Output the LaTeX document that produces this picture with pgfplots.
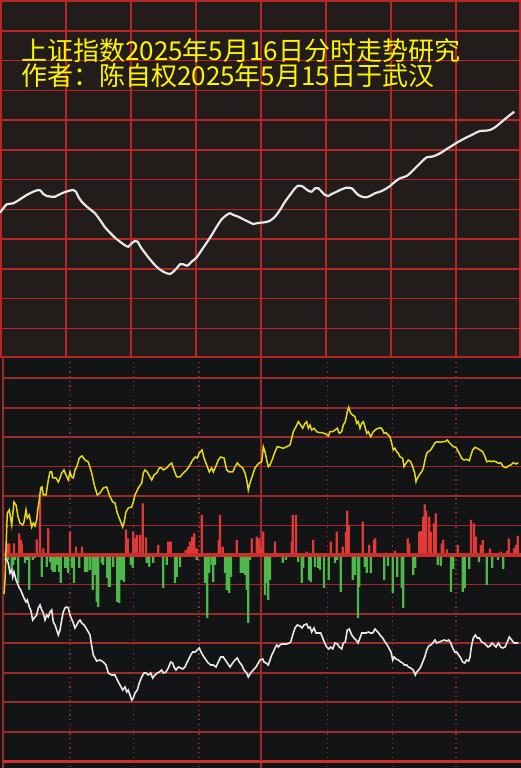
\documentclass[border=0pt]{standalone}
\usepackage{pgfplots}
\pgfplotsset{compat=1.18}
\usepackage{fontspec}
\newfontfamily\cjk{Noto Sans CJK SC}
\definecolor{topbg}{RGB}{34,28,26}
\definecolor{botbg}{RGB}{19,20,22}
\definecolor{topgrid}{RGB}{185,38,38}
\definecolor{botgrid}{RGB}{158,42,42}
\definecolor{zerored}{RGB}{200,48,44}
\definecolor{dotred}{RGB}{140,40,40}
\definecolor{titley}{RGB}{255,245,0}
\definecolor{liney}{RGB}{228,218,24}
\definecolor{linew}{RGB}{232,232,232}
\definecolor{barred}{RGB}{224,58,56}
\definecolor{bargreen}{RGB}{78,184,74}
\begin{document}
\begin{tikzpicture}
\useasboundingbox (0pt,0pt) rectangle (521pt,768pt);
\fill[topbg] (0pt,410pt) rectangle (521pt,768pt);
\fill[botbg] (0pt,0pt) rectangle (521pt,410pt);
% ---------------- top panel ----------------
\begin{axis}[at={(0pt,410pt)}, anchor=south west, scale only axis,
  width=521pt, height=358pt, xmin=0, xmax=521, ymin=0, ymax=358,
  y dir=reverse, hide axis, clip=true]
\pgfplotsinvokeforeach{1,66,131,196,261,326,391,456,520}{
  \draw[topgrid, line width=1.5pt] (axis cs:#1,0) -- (axis cs:#1,358);}
\pgfplotsinvokeforeach{1,30.8,60.5,90.3,120,149.9,179.6,209.4,239.2,268.9,298.7,328.5}{
  \draw[topgrid, line width=1.5pt] (axis cs:0,#1) -- (axis cs:521,#1);}
\draw[topgrid, line width=2.5pt] (axis cs:0,357.4) -- (axis cs:521,357.4);
\addplot[linew, line width=2.2pt, smooth, tension=0.5] table[row sep=\\]{
x y\\
0 212.7\\ 3.3 208.3\\ 6.7 204.3\\ 13.3 203.3\\ 20 199.3\\ 26.7 195\\ 33.3 191.7\\
38.3 190\\ 40.7 190.7\\ 43.3 194\\ 46.7 196\\ 51.7 196.7\\ 55 196.7\\ 58.3 195\\
63.3 192.7\\ 68.3 191\\ 73.3 190\\ 76 191.7\\ 78.3 196.7\\ 81.7 201.7\\ 85 205\\
90 209.3\\ 95 213.3\\ 100 220\\ 105 227.3\\ 110 232.7\\ 115 237.7\\ 120 241.7\\
125 245.3\\ 128.3 246.7\\ 131.7 243.3\\ 135 241\\ 137.7 241.7\\ 140 246\\
143.3 250.7\\ 148.3 257.3\\ 153.3 263.3\\ 158.3 268.3\\ 163.3 271.7\\ 166.7 273.3\\
170 274\\ 173.3 271.7\\ 176.7 268.3\\ 180 264.3\\ 183.3 264.3\\ 187.3 265.7\\
191.7 261.7\\ 196.7 257.3\\ 201.7 250\\ 206.7 242.7\\ 211.7 235\\ 216.7 226.7\\
221.7 219.3\\ 226.7 215\\ 230 213.3\\ 233.3 215\\ 238.3 216.7\\ 243.3 219.3\\
248.3 221.7\\ 253.3 224\\ 256.7 223.3\\ 260 222.7\\ 265 222.3\\ 270 220.7\\
275 216.7\\ 280 210\\ 285 201.7\\ 290 195\\ 295 188.3\\ 298.3 185.7\\ 301.7 186\\
305 188.3\\ 308.3 190.7\\ 311.7 191.7\\ 315 188.3\\ 318.3 188.3\\ 321.7 191.7\\
325 195\\ 328.3 196\\ 331.7 194\\ 336.7 191.7\\ 341.7 189.3\\ 346.7 187.7\\
351.7 188.3\\ 355 191.7\\ 358.3 195\\ 361.7 196.7\\ 366 197.3\\ 370 196\\
375 193.3\\ 380 191.7\\ 385 189.3\\ 390 186\\ 395 181.7\\ 400 178.3\\ 406.7 176\\
411.7 171.7\\ 416.7 166.7\\ 421.7 161.7\\ 426.7 157.3\\ 431.7 156.7\\ 436.7 155\\
441.7 152.3\\ 446.7 149\\ 451.7 146\\ 456.7 142.7\\ 461.7 140\\ 466.7 137.3\\
471.7 135\\ 476.7 132.3\\ 480 131\\ 485 130.7\\ 490 130\\ 495 127.3\\ 500 123.3\\
505 119\\ 510 115\\ 514.3 111.7\\
};
\end{axis}
% ---------------- bottom panel ----------------
\begin{axis}[at={(0pt,0pt)}, anchor=south west, scale only axis,
  width=521pt, height=410pt, xmin=0, xmax=521, ymin=-213, ymax=197,
  hide axis, clip=true]
\draw[botgrid, line width=1.5pt] (axis cs:3,197) -- (axis cs:3,-213);
\draw[botgrid, line width=1.5pt] (axis cs:261,197) -- (axis cs:261,-213);
\pgfplotsinvokeforeach{70,133.3,199,327.3,392.3,456}{
  \draw[dotred, line width=1.3pt, dash pattern=on 1.3pt off 3.4pt] (axis cs:#1,193) -- (axis cs:#1,-213);}
\pgfplotsinvokeforeach{176.7,147.25,117.8,88.35,58.9,29.45,-29.45,-58.9,-88.35,-117.8,-147.25,-176.7}{
  \draw[botgrid, line width=1.7pt] (axis cs:3,#1) -- (axis cs:521,#1);}
\draw[zerored, line width=3pt] (axis cs:3,-206.4) -- (axis cs:521,-206.4);
% red bars
\addplot[ybar, bar width=2.3pt, bar shift=0pt, fill=barred, draw=none] table[row sep=\\]{
x h\\
7.3 11.7\\ 9.3 11.7\\ 14 11.7\\ 19.3 21.7\\ 20.7 15\\ 21.7 11.7\\ 36.7 15.7\\ 40 58.3\\
43.3 6.7\\ 48.3 26.7\\ 70 23.3\\ 76 8.3\\ 82 8.3\\ 126 25.7\\ 127.7 16.7\\ 133.3 23.3\\
135 16.7\\ 136.7 20\\ 140 20\\ 142.7 51.7\\ 146 17.7\\ 158.3 10\\ 168.3 13.3\\ 170.7 13.3\\
185.7 5\\ 188.3 8\\ 190 13.3\\ 192.3 18.3\\ 194.3 21.7\\ 196.7 6.7\\ 201.7 40\\ 218.7 15\\
220 40\\ 222.7 8.3\\ 236.7 15\\ 251.7 16.7\\ 256.7 18.3\\ 259.3 16.7\\ 261.7 8.3\\
263.3 23.3\\ 275 13.3\\ 291.7 13.3\\ 292.7 40\\ 296 40\\ 306.7 3.3\\ 313.3 15\\
330.7 13.3\\ 336.7 23.3\\ 342.7 8.3\\ 346 23.3\\ 347.3 44.3\\ 348.7 30\\ 362.7 33.3\\
369.3 10\\ 374 15\\ 375.3 16.7\\ 386 2.3\\ 395 4\\ 407.7 16.7\\ 409.3 11.7\\ 419.3 23.3\\
420.7 24\\ 423.3 38.3\\ 424.7 50.7\\ 426.3 44.3\\ 429.3 38.3\\ 430.7 23.3\\ 434 31.7\\
435.7 41.7\\ 441.7 11.7\\ 443.3 15\\ 446.7 5.7\\ 457.7 10\\ 471 35\\ 474 31.7\\ 476 18.3\\
480.7 10\\ 482.7 15\\ 490 6.7\\ 500.7 3.3\\ 507.3 4\\ 508.7 16.7\\ 514 6.7\\ 516 10\\ 517.7 19\\
};
% green bars
\addplot[ybar, bar width=2.3pt, bar shift=0pt, fill=bargreen, draw=none] table[row sep=\\]{
x h\\
8.3 -5\\ 11.7 -15\\ 13.3 -10\\ 15 -5\\ 18.3 -28\\ 25 -8\\ 26.7 -5\\ 29.3 -35\\ 32.7 -5\\
35 -3\\ 41.7 -22\\ 46.7 -12\\ 50 -7\\ 51.7 -15\\ 53.3 -17\\ 55 -17\\ 57.3 -10\\ 59 -17\\
60.7 -28\\ 65 -13\\ 66.7 -13\\ 68.3 -18\\ 71.7 -13\\ 74 -28\\ 79.3 -13\\ 85 -17\\ 87.3 -17\\
90 -15\\ 92.7 -35\\ 95 -20\\ 96.7 -47\\ 98.3 -52\\ 101.7 -8\\ 103.3 -10\\ 107.3 -23\\
108.7 -32\\ 110 -32\\ 113.3 -12\\ 117.3 -47\\ 119.3 -48\\ 121.7 -25\\ 124 -27\\ 130.7 -10\\
132.7 -13\\ 146.7 -8\\ 149.3 -12\\ 153.3 -8\\ 163.3 -33\\ 166.7 -10\\ 175 -28\\ 176.7 -22\\
180 -12\\ 196.7 -5\\ 205 -28\\ 207.3 -63\\ 209.3 -18\\ 212 -10\\ 213.3 -27\\ 215 -10\\
225 -18\\ 226.7 -35\\ 229.3 -38\\ 231 -22\\ 240.7 -18\\ 242.7 -18\\ 245 -20\\ 246.7 -35\\
248.3 -68\\ 250 -5\\ 265 -40\\ 266.7 -28\\ 268.3 -45\\ 270 -25\\ 282.7 -8\\ 286 -5\\
298.3 -7\\ 301.7 -28\\ 303.3 -13\\ 309 -25\\ 310.7 -27\\ 315 -12\\ 318.3 -13\\ 320 -15\\
324 -33\\ 328.7 -25\\ 335 -8\\ 337.3 -5\\ 340.7 -37\\ 352.7 -25\\ 355 -20\\ 358 -63\\
359.3 -32\\ 364.7 -12\\ 366.7 -18\\ 370.7 -18\\ 384.3 -25\\ 388 -11\\ 392.7 -38\\
397.3 -22\\ 401.7 -33\\ 403.3 -53\\ 413.3 -20\\ 415.3 -13\\ 437.7 -10\\ 440.7 -11\\
451 -37\\ 453.3 -14\\ 462.7 -37\\ 464.7 -33\\ 469.3 -14\\ 479 -7\\ 486.7 -30\\ 492.3 -13\\
498 -5\\ 503.3 -14\\
};
\draw[zerored, line width=3.2pt] (axis cs:3,0) -- (axis cs:521,0);
% yellow line
\addplot[liney, line width=1.5pt] table[row sep=\\, y expr=555-\thisrowno{1}]{
x y\\
4 594\\ 5 580\\ 5.7 560\\ 6.3 540\\ 7.3 513\\ 9.3 510\\ 11.7 525\\ 14 502\\ 16 505\\
18.3 518\\ 20 523\\ 22.7 525\\ 24 522\\ 26 510\\ 27.3 518\\ 29.3 515\\ 31.7 527\\ 33.3 523\\
35 526\\ 36.7 520\\ 37.7 510\\ 39.3 500\\ 40.7 488\\ 42 487\\ 43.3 495\\ 46 495\\ 48.3 480\\
50 472\\ 51.7 472\\ 52.7 478\\ 56 478\\ 58.3 482\\ 60 478\\ 61.7 473\\ 64 470\\ 66 475\\
68.3 480\\ 70 472\\ 71.7 477\\ 73.3 478\\ 75 470\\ 76.7 467\\ 79.3 458\\ 82 456\\ 85 460\\
88.3 462\\ 91.7 473\\ 94.3 485\\ 97.3 495\\ 100 493\\ 103.3 488\\ 106.7 487\\ 109.3 495\\
112.7 502\\ 115 503\\ 117.3 513\\ 120 520\\ 122.7 527\\ 124 523\\ 126 512\\ 128.3 508\\
131.7 507\\ 133.3 502\\ 135 495\\ 138.3 488\\ 141.7 483\\ 143.3 473\\ 145 470\\ 147.3 472\\
150 477\\ 151.7 480\\ 154 475\\ 156.7 473\\ 159.3 468\\ 161.7 468\\ 163.3 470\\ 166.7 468\\
169.3 465\\ 171.7 463\\ 173.3 468\\ 176.7 477\\ 180 477\\ 183.3 473\\ 186.7 470\\ 190 465\\
192.7 460\\ 195.3 457\\ 197.3 458\\ 199.3 453\\ 202 450\\ 204 458\\ 206.7 465\\ 209.3 472\\
211.7 468\\ 213.3 472\\ 216 466\\ 218.3 460\\ 220.7 457\\ 224 458\\ 226.7 470\\ 229.3 472\\
232.7 472\\ 235 467\\ 237.3 463\\ 240 466\\ 242.7 468\\ 245 473\\ 246.7 480\\ 248.3 490\\
250 483\\ 252.7 475\\ 255 468\\ 257.3 465\\ 259.3 463\\ 261.7 461.7\\ 263.3 446.7\\
265 451.7\\ 266.7 460\\ 268.3 466.7\\ 270 465\\ 272.7 458.3\\ 275 451.7\\ 277.3 446.7\\
280 447.3\\ 283.3 448.3\\ 286.7 446.7\\ 290 445\\ 291.7 438.3\\ 293.3 431.7\\ 296 426.7\\
298.3 421.7\\ 300.7 425\\ 302.7 428.3\\ 305 423.3\\ 306.7 421.7\\ 308.3 428.3\\ 310 425\\
311.7 430\\ 314 428.3\\ 316.7 431.7\\ 319.3 432.7\\ 321.7 432.7\\ 324 433.3\\ 326 434\\
328.3 436\\ 330 431.7\\ 332.7 431.7\\ 335 430\\ 337.3 428.3\\ 339.3 433.3\\ 341.7 431.7\\
343.3 425\\ 345.3 421.7\\ 347.3 411.7\\ 348.7 407.3\\ 350.7 413.3\\ 352.7 415\\ 355 416.7\\
356.7 423.3\\ 358.3 421.7\\ 360 428.3\\ 361.7 423.3\\ 363.3 421.7\\ 365 426.7\\ 366.7 433.3\\
368.3 431.7\\ 370.7 436.7\\ 373.3 431.7\\ 376 429.3\\ 378.3 428.3\\ 380.7 427.7\\ 382.7 430\\
384 433.3\\ 386 432.7\\ 388.3 435\\ 390 436.7\\ 391.7 443.3\\ 393.3 450\\ 395 448.3\\
396.7 451.7\\ 398.3 453.3\\ 400 456.7\\ 402.7 458.3\\ 404 466.7\\ 406 463.3\\ 408.3 460\\
410.7 461.7\\ 412.7 466.7\\ 414.7 473.3\\ 416 481.7\\ 417.3 478.3\\ 419.3 475\\ 421.7 471.7\\
423.3 468.3\\ 425 460\\ 426.7 453.3\\ 428.3 451.7\\ 430.7 450\\ 432.7 446.7\\ 435 442.7\\
437.3 441.7\\ 440 442.3\\ 442.7 441.7\\ 445 441.7\\ 447.3 440\\ 449.3 442.7\\ 451.7 445\\
453.3 446.7\\ 456 447.3\\ 457.3 450\\ 459.3 453.3\\ 461.7 458.3\\ 464 460\\ 466.7 459.3\\
469.3 460.7\\ 470.7 456\\ 472.7 450\\ 475 447.3\\ 477.3 448.3\\ 480 450\\ 482.7 451.7\\
485 456.7\\ 486.7 461.7\\ 489.3 461\\ 491.7 461.7\\ 493.3 461\\ 496 461.7\\ 498.3 463.3\\
500.7 462.7\\ 503.3 466.7\\ 506 467.7\\ 508.3 466\\ 510.7 465\\ 513.3 462.7\\ 516 464\\
518.3 462.7\\
};
% white line
\addplot[linew, line width=1.6pt] table[row sep=\\, y expr=555-\thisrowno{1}]{
x y\\
5 558\\ 6.7 560\\ 8.3 563\\ 10 573\\ 11.7 570\\ 12.7 577\\ 14 572\\ 16 580\\ 17.3 583\\
19.3 588\\ 20.7 590\\ 22.7 595\\ 24 598\\ 26 602\\ 27.3 600\\ 29.3 607\\ 30.7 610\\
32.7 620\\ 35 617\\ 36.7 615\\ 38.3 608\\ 40 605\\ 41.7 610\\ 43.3 613\\ 45 620\\
46.7 615\\ 48.3 617\\ 50 612\\ 51.7 610\\ 53.3 622\\ 55 625\\ 56.7 630\\ 58.3 635\\
60 630\\ 61.7 620\\ 63.3 612\\ 65 608\\ 66.7 607\\ 68.3 608\\ 70 615\\ 73.3 623\\ 75 628\\
76.7 625\\ 78.3 622\\ 80 620\\ 81.7 623\\ 84 625\\ 86 628\\ 88.3 632\\ 90 635\\
91.7 646\\ 93.3 655\\ 96.7 661\\ 100 660\\ 103.3 662\\ 106 665\\ 108.3 673\\ 111.7 675\\
115 675\\ 117.3 680\\ 120 685\\ 122.7 690\\ 125 687\\ 126.7 692\\ 128.3 690\\ 130 695\\
131.7 700\\ 133.3 698\\ 135 693\\ 137.3 690\\ 139.3 683\\ 141.7 677\\ 144 673\\ 146 673\\
148.3 675\\ 150.7 673\\ 152.7 678\\ 155 675\\ 157.3 673\\ 159.3 672\\ 161.7 670\\
163.3 673\\ 166 672\\ 168.3 668\\ 170.7 662\\ 172.7 663\\ 174 667\\ 176 670\\ 178.3 667\\
180.7 668\\ 182.7 669\\ 185 667\\ 186.7 663\\ 188.3 660\\ 190.7 655\\ 192.7 652\\ 195 652\\
197.3 650\\ 199.3 648\\ 201 652\\ 202.7 655\\ 204 657\\ 206 660\\ 208.3 663\\ 210.7 665\\
213.3 665\\ 216 667\\ 218.3 662\\ 220.7 657\\ 223.3 657\\ 225.3 660\\ 227.3 663\\ 230 667\\
232.7 663\\ 235 660\\ 237.3 658\\ 239.3 662\\ 241.7 665\\ 244 670\\ 246.7 673\\ 248.3 677\\
250.7 673\\ 253.3 670\\ 256 667\\ 258.3 663\\ 260 660\\ 262.7 659\\ 264 662\\ 266 663\\
268.3 665\\ 270 660\\ 271.7 655\\ 273.3 652\\ 275 648\\ 276.7 645\\ 278.3 647\\ 280 645\\
281.7 644\\ 284 644\\ 286.7 644\\ 289.3 643\\ 290.7 642\\ 292.7 635\\ 295 628\\ 297.3 625\\
300 626\\ 302 628\\ 304 625\\ 306.7 624\\ 308.3 628\\ 310 627\\ 311.7 632\\ 314 628\\
316 633\\ 318.3 633\\ 320.7 633\\ 322.7 638\\ 324.7 643\\ 326.7 647\\ 328.7 649\\
330.7 647\\ 332.7 649\\ 335 643\\ 337.3 644\\ 339.3 647\\ 341.7 649\\ 343.3 643\\
345.3 642\\ 347.3 630\\ 349.3 629\\ 351.7 635\\ 354 638\\ 356 640\\ 358 643\\ 360 638\\
361.7 633\\ 364 633\\ 366 633\\ 368.3 632\\ 370.7 633\\ 372.7 633\\ 375 629\\ 376.7 631\\
378.7 633\\ 380.7 636\\ 382.7 638\\ 385 642\\ 387.3 645\\ 389.3 649\\ 391 652\\ 392.7 660\\
394 657\\ 396 659\\ 398.3 660\\ 400.7 662\\ 402.7 663\\ 404.3 665\\ 406.7 665\\ 408.3 667\\
410.7 668\\ 413.3 670\\ 415.3 675\\ 416.7 672\\ 418.7 670\\ 420.7 667\\ 422.7 662\\
424.7 657\\ 426.7 650\\ 428.7 646\\ 430.7 645\\ 432.7 643\\ 435 640\\ 436.7 643\\
439.3 642\\ 441.7 641\\ 444 640\\ 446.7 641\\ 448.7 640\\ 450.7 643\\ 452.7 648\\
454.7 652\\ 456.7 652\\ 458.7 655\\ 460.7 658\\ 462.7 662\\ 464.7 663\\ 466.7 660\\
468.7 661\\ 470 657\\ 471.3 647\\ 473.3 638\\ 475.3 635\\ 477.3 638\\ 479.3 638\\
481.7 642\\ 484 643\\ 486 645\\ 488 647\\ 490 646\\ 492 643\\ 494 645\\ 496 647\\
498.3 643\\ 500.7 647\\ 502.7 648\\ 505 647\\ 507.3 642\\ 509.3 637\\ 511.7 640\\
514 643\\ 516 643\\ 518.3 643\\
};
\end{axis}
% ---------------- title text ----------------
\node[anchor=base west, inner sep=0pt, text=titley, font=\cjk\fontsize{26pt}{26pt}\selectfont]
  at (21pt,707.5pt) {上证指数2025年5月16日分时走势研究};
\node[anchor=base west, inner sep=0pt, text=titley, font=\cjk\fontsize{26pt}{26pt}\selectfont]
  at (21pt,682.5pt) {作者：陈自权2025年5月15日于武汉};
\end{tikzpicture}
\end{document}
